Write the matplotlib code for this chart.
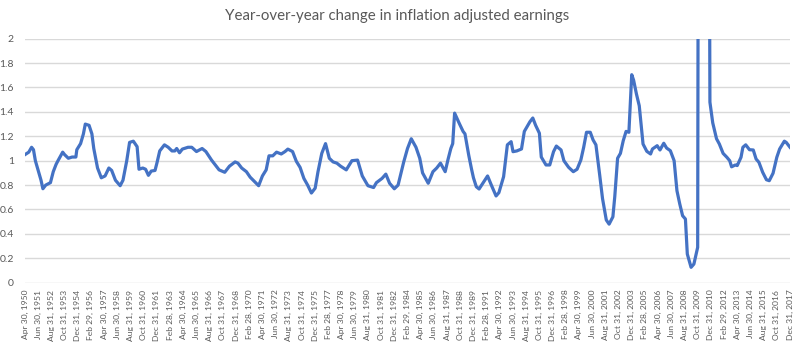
import calendar

import matplotlib

matplotlib.use("Agg")

import matplotlib.pyplot as plt

# Month-end readings of the real-earnings ratio (this year / last year)
months = [
    "1950-04", "1950-06", "1950-08", "1950-11", "1951-01", "1951-03", "1951-06", "1951-09",
    "1951-11", "1952-02", "1952-07", "1952-08", "1952-10", "1953-01", "1953-03", "1953-08",
    "1953-10", "1954-02", "1954-06", "1954-10", "1954-11", "1955-03", "1955-06", "1955-08",
    "1955-12", "1956-03", "1956-05", "1956-09", "1957-01", "1957-05", "1957-09", "1957-12",
    "1958-04", "1958-09", "1958-12", "1959-04", "1959-07", "1959-11", "1960-03", "1960-05",
    "1960-09", "1960-12", "1961-03", "1961-06", "1961-10", "1961-12", "1962-03", "1962-08",
    "1962-12", "1963-04", "1963-07", "1963-09", "1963-12", "1964-03", "1964-09", "1965-01",
    "1965-06", "1965-12", "1966-04", "1966-10", "1967-06", "1967-12", "1968-05", "1968-11",
    "1969-02", "1969-06", "1969-11", "1970-03", "1970-12", "1971-04", "1971-08", "1971-11",
    "1972-03", "1972-07", "1972-12", "1973-04", "1973-07", "1973-12", "1974-04", "1974-08",
    "1974-12", "1975-04", "1975-08", "1975-12", "1976-03", "1976-07", "1976-11", "1977-03",
    "1977-07", "1977-11", "1978-03", "1978-09", "1979-03", "1979-09", "1980-02", "1980-08",
    "1981-02", "1981-05", "1981-11", "1982-03", "1982-07", "1982-12", "1983-04", "1983-10",
    "1984-02", "1984-06", "1984-11", "1985-03", "1985-06", "1985-12", "1986-05", "1986-09",
    "1987-01", "1987-06", "1987-09", "1987-12", "1988-02", "1988-04", "1988-09", "1989-01",
    "1989-03", "1989-07", "1989-10", "1989-12", "1990-03", "1990-06", "1990-10", "1991-03",
    "1991-07", "1991-12", "1992-03", "1992-08", "1992-12", "1993-04", "1993-06", "1993-10",
    "1994-03", "1994-06", "1994-09", "1994-12", "1995-03", "1995-06", "1995-10", "1995-12",
    "1996-05", "1996-09", "1997-01", "1997-04", "1997-09", "1997-12", "1998-05", "1998-10",
    "1999-02", "1999-06", "1999-09", "1999-12", "2000-04", "2000-07", "2000-10", "2001-02",
    "2001-05", "2001-09", "2001-12", "2002-04", "2002-06", "2002-09", "2002-12", "2003-03",
    "2003-06", "2003-09", "2003-12", "2004-02", "2004-05", "2004-08", "2004-12", "2005-04",
    "2005-08", "2005-10", "2006-03", "2006-06", "2006-10", "2007-01", "2007-05", "2007-09",
    "2007-12", "2008-03", "2008-06", "2008-09", "2008-11", "2009-03", "2009-06", "2009-10",
    "2009-11", "2010-04", "2010-10", "2010-11", "2011-02", "2011-06", "2011-09", "2012-01",
    "2012-05", "2012-08", "2012-10", "2013-02", "2013-04", "2013-08", "2013-10", "2014-01",
    "2014-05", "2014-09", "2014-12", "2015-03", "2015-07", "2015-11", "2016-02", "2016-06",
    "2016-10", "2017-01", "2017-06", "2017-08", "2017-12",
]
ratio = [
    1.05, 1.06, 1.07, 1.11, 1.09, 1.00, 0.92, 0.84,
    0.77, 0.80, 0.82, 0.85, 0.91, 0.97, 1.00, 1.07,
    1.05, 1.02, 1.03, 1.03, 1.09, 1.14, 1.22, 1.30,
    1.29, 1.22, 1.10, 0.94, 0.86, 0.875, 0.94, 0.92,
    0.84, 0.795, 0.84, 1.00, 1.15, 1.16, 1.115, 0.93,
    0.94, 0.93, 0.88, 0.915, 0.92, 0.98, 1.08, 1.13,
    1.11, 1.08, 1.08, 1.10, 1.065, 1.095, 1.11, 1.11,
    1.075, 1.10, 1.075, 1.005, 0.925, 0.905, 0.955, 0.99,
    0.98, 0.94, 0.91, 0.865, 0.795, 0.875, 0.925, 1.04,
    1.04, 1.07, 1.055, 1.075, 1.095, 1.075, 0.995, 0.945,
    0.855, 0.80, 0.735, 0.775, 0.91, 1.06, 1.14, 1.02,
    0.99, 0.98, 0.955, 0.925, 1.00, 1.005, 0.875, 0.795,
    0.78, 0.82, 0.855, 0.89, 0.815, 0.77, 0.80, 0.99,
    1.10, 1.18, 1.11, 1.02, 0.90, 0.815, 0.91, 0.94,
    0.98, 0.91, 1.01, 1.10, 1.14, 1.39, 1.305, 1.24,
    1.22, 1.045, 0.93, 0.86, 0.787, 0.768, 0.815, 0.875,
    0.80, 0.711, 0.738, 0.869, 1.13, 1.156, 1.074, 1.08,
    1.096, 1.24, 1.28, 1.32, 1.35, 1.29, 1.225, 1.03,
    0.965, 0.965, 1.074, 1.12, 1.088, 1.00, 0.946, 0.91,
    0.93, 1.006, 1.11, 1.233, 1.233, 1.17, 1.13, 0.883,
    0.69, 0.514, 0.48, 0.54, 0.705, 1.02, 1.06, 1.164,
    1.24, 1.233, 1.705, 1.66, 1.547, 1.45, 1.137, 1.077,
    1.055, 1.096, 1.123, 1.088, 1.143, 1.104, 1.082, 1.00,
    0.754, 0.645, 0.549, 0.522, 0.235, 0.126, 0.153, 0.29,
    5.0, 8.0, 4.0, 1.48, 1.31, 1.18, 1.137, 1.06,
    1.028, 1.00, 0.95, 0.965, 0.96, 1.028, 1.11, 1.13,
    1.09, 1.088, 1.014, 0.987, 0.905, 0.844, 0.836, 0.897,
    1.028, 1.096, 1.16, 1.15, 1.11,
]

START = (1950, 4)
END = (2017, 12)
TICK_STEP = 14  # Excel labelled every 14th month


def month_index(year, month):
    return (year - START[0]) * 12 + (month - START[1])


def month_end_label(idx):
    y = START[0] + (START[1] - 1 + idx) // 12
    m = (START[1] - 1 + idx) % 12 + 1
    last = calendar.monthrange(y, m)[1]
    return f"{calendar.month_abbr[m]} {last}, {y}"


x = [month_index(int(s[:4]), int(s[5:])) for s in months]
n_months = month_index(*END)
tick_pos = list(range(0, n_months + 1, TICK_STEP))
tick_labels = [month_end_label(i) for i in tick_pos]

plt.rcParams["font.family"] = ["Lato", "DejaVu Sans"]
grey = "#595959"

fig = plt.figure(figsize=(8.0, 3.49), dpi=100)
ax = fig.add_axes([25 / 800, 1 - 282.7 / 349, 765 / 800, 244 / 349])

ax.plot(x, ratio, color="#4472C4", linewidth=2.3, solid_joinstyle="round")

ax.set_xlim(0, n_months)
ax.set_ylim(0, 2)
ax.set_yticks([i / 5 for i in range(11)])
ax.set_yticklabels(["0", "0.2", "0.4", "0.6", "0.8", "1", "1.2", "1.4", "1.6", "1.8", "2"])
ax.set_xticks(tick_pos)
ax.set_xticklabels(tick_labels, rotation=90)

ax.grid(axis="y", color="#D9D9D9", linewidth=1.0)
ax.set_axisbelow(True)
for side in ("top", "right", "left", "bottom"):
    ax.spines[side].set_visible(False)
ax.tick_params(axis="y", length=0, colors=grey, labelsize=7.5, pad=8)
ax.tick_params(axis="x", length=0, colors=grey, labelsize=6.1, pad=5)

fig.text(0.496, 1 - 16 / 349, "Year-over-year change in inflation adjusted earnings",
         ha="center", va="center", fontsize=10.8, color=grey)

fig.savefig("out.png", dpi=100)
plt.close(fig)
